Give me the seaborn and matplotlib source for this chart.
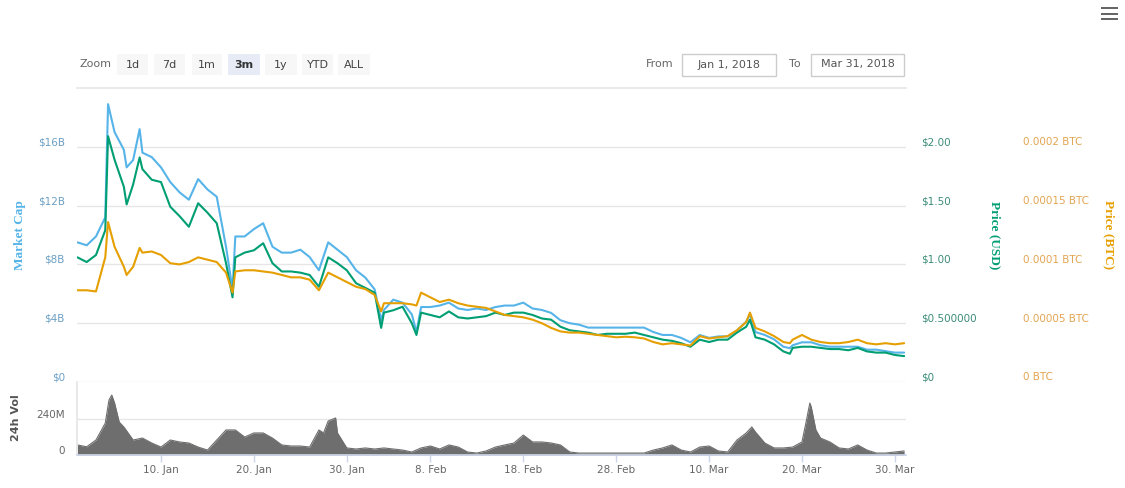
import matplotlib.pyplot as plt
import matplotlib.transforms as mtransforms
from matplotlib.patches import Rectangle
import seaborn as sns
import pandas as pd

W, H = 1125, 488
start = pd.Timestamp("2018-01-01")

# day offsets from Jan 1 for the three price series
day = [0, 1, 2, 3, 3.3, 4, 5, 5.3, 6, 6.7, 7, 8, 9, 10, 11, 12, 13, 14, 15, 16, 16.7,
       17, 18, 19, 20, 21, 22, 23, 24, 25, 26, 27, 28, 29, 30, 31, 32, 32.7, 33, 34,
       35, 36, 36.5, 37, 38, 39, 40, 41, 42, 43, 44, 45, 46, 47, 48, 49, 50, 51, 52,
       53, 54, 55, 56, 57, 58, 59, 60, 61, 62, 63, 64, 65, 66, 67, 68, 69, 70, 71, 72,
       72.4, 73, 74, 75, 76, 76.7, 77, 78, 79, 80, 81, 82, 83, 84, 85, 86, 87, 88, 89]
market_cap_b = [9.5, 9.3, 9.9, 11.2, 18.9, 17.0, 15.8, 14.6, 15.1, 17.2, 15.6, 15.3, 14.6,
                13.6, 12.9, 12.4, 13.8, 13.1, 12.6, 9.2, 6.3,
                9.9, 9.9, 10.4, 10.8, 9.2, 8.8, 8.8, 9.0, 8.5, 7.6, 9.5, 9.0, 8.5, 7.6,
                7.1, 6.3, 4.2, 4.9, 5.6,
                5.4, 4.6, 3.4, 5.1, 5.1, 5.2, 5.4, 5.0, 4.9, 5.0, 4.9, 5.1, 5.2, 5.2, 5.4,
                5.0, 4.9, 4.7, 4.2,
                4.0, 3.9, 3.7, 3.7, 3.7, 3.7, 3.7, 3.7, 3.7, 3.4, 3.2, 3.2, 3.0, 2.7, 3.2,
                3.0, 3.1, 3.1, 3.5, 4.1,
                4.6, 3.4, 3.2, 2.9, 2.4, 2.3, 2.5, 2.7, 2.7, 2.5, 2.4, 2.4, 2.4, 2.4, 2.2,
                2.2, 2.1, 2.0, 2.0]
price_usd = [1.06, 1.02, 1.08, 1.29, 2.09, 1.89, 1.66, 1.51, 1.68, 1.91, 1.81, 1.72, 1.70,
             1.49, 1.41, 1.32, 1.52, 1.44, 1.35, 1.01, 0.72,
             1.06, 1.10, 1.12, 1.18, 1.01, 0.94, 0.94, 0.93, 0.91, 0.81, 1.06, 1.01, 0.95,
             0.84, 0.80, 0.76, 0.46, 0.59, 0.61,
             0.64, 0.50, 0.40, 0.59, 0.57, 0.55, 0.60, 0.55, 0.54, 0.55, 0.56, 0.59, 0.57,
             0.59, 0.59, 0.57, 0.54, 0.53, 0.47,
             0.44, 0.43, 0.42, 0.40, 0.41, 0.41, 0.41, 0.42, 0.40, 0.38, 0.36, 0.35, 0.33,
             0.30, 0.36, 0.34, 0.36, 0.36, 0.42, 0.47,
             0.53, 0.38, 0.36, 0.32, 0.26, 0.24, 0.29, 0.30, 0.30, 0.29, 0.28, 0.28, 0.27,
             0.29, 0.26, 0.25, 0.25, 0.23, 0.22]
# price in units of 0.00001 BTC
price_btc_1e5 = [7.8, 7.8, 7.7, 10.6, 13.6, 11.5, 9.8, 9.1, 9.8, 11.4, 11.0, 11.1, 10.8,
                 10.1, 10.0, 10.2, 10.6, 10.4, 10.2, 9.3, 7.6,
                 9.4, 9.5, 9.5, 9.4, 9.3, 9.1, 8.9, 8.9, 8.7, 7.8, 9.3, 8.9, 8.5, 8.1,
                 7.9, 7.4, 6.0, 6.7, 6.7,
                 6.7, 6.6, 6.5, 7.6, 7.2, 6.8, 7.0, 6.7, 6.5, 6.4, 6.3, 6.0, 5.7, 5.6, 5.5,
                 5.3, 5.0, 4.6, 4.3,
                 4.2, 4.2, 4.1, 4.0, 3.9, 3.8, 3.85, 3.8, 3.7, 3.4, 3.2, 3.3, 3.2, 3.1, 3.9,
                 3.7, 3.8, 3.9, 4.4, 5.1,
                 5.9, 4.6, 4.3, 3.9, 3.4, 3.3, 3.6, 4.0, 3.6, 3.4, 3.3, 3.3, 3.4, 3.6, 3.3,
                 3.2, 3.3, 3.2, 3.3]

vol_day = [0, 1, 2, 3, 3.4, 3.7, 4, 4.5, 5, 6, 7, 8, 9, 10, 11, 12, 13, 14, 15, 16, 17,
           18, 19, 20, 21, 22, 23, 24, 25, 26, 26.5, 27, 27.8, 28, 29, 30, 31, 32, 33,
           34, 35, 36, 37, 38, 39, 40, 41, 42, 43, 44, 45, 46, 47, 48, 49, 50, 51, 52,
           53, 54, 55, 56, 57, 58, 59, 60, 61, 62, 63, 64, 65, 66, 67, 68, 69, 70, 71,
           72, 72.6, 73, 74, 75, 76, 77, 78, 78.4, 78.85, 79, 79.5, 80, 81, 82, 83, 84,
           85, 86, 87, 88, 89]
volume_m = [67, 55, 100, 213, 367, 400, 347, 220, 187, 100, 113, 80, 53, 100, 87, 80, 53,
            33, 100, 167, 167,
            120, 147, 147, 113, 67, 60, 60, 53, 167, 147, 227, 247, 147, 47, 40, 47, 40, 47,
            40, 33, 20, 47, 60, 40, 67, 53, 20, 13, 27, 53, 67, 80, 133, 87, 87, 80, 67,
            20, 13, 13, 13, 13, 13, 13, 13, 13, 33, 47, 67, 33, 20, 53, 60, 27, 20, 100,
            147, 187, 153, 80, 47, 47, 53, 87, 207, 347, 320, 167, 113, 87, 47, 40, 67,
            33, 13, 13, 20, 27]

mc_ticks = [0, 4, 8, 12, 16]
mc_labels = ["$0", "$4B", "$8B", "$12B", "$16B"]
usd_ticks = [0, 0.5, 1.0, 1.5, 2.0]
usd_labels = ["$0", "$0.500000", "$1.00", "$1.50", "$2.00"]
btc_ticks = [0, 5, 10, 15, 20]
btc_labels = ["0 BTC", "0.00005 BTC", "0.0001 BTC", "0.00015 BTC", "0.0002 BTC"]
date_ticks = pd.to_datetime(["2018-01-10", "2018-01-20", "2018-01-30", "2018-02-08",
                             "2018-02-18", "2018-02-28", "2018-03-10", "2018-03-20",
                             "2018-03-30"])
zoom_buttons = ["1d", "7d", "1m", "3m", "1y", "YTD", "ALL"]

BLUE, GREEN, ORANGE, GRAY = "#56b4e9", "#009e73", "#e69f00", "#6e6e6e"

sns.set_theme(style="white")
plt.rcParams["font.family"] = ["DejaVu Sans"]

df = pd.DataFrame({"date": start + pd.to_timedelta(day, unit="D"),
                   "mc": market_cap_b, "usd": price_usd, "btc": price_btc_1e5})
vdf = pd.DataFrame({"date": start + pd.to_timedelta(vol_day, unit="D"), "vol": volume_m})

fig = plt.figure(figsize=(W / 100, H / 100), dpi=100)
x0, x1 = 77.4, 906
ax = fig.add_axes([x0 / W, 1 - 382 / H, (x1 - x0) / W, 294 / H])
axv = fig.add_axes([x0 / W, 1 - 455 / H, (x1 - x0) / W, 73 / H], sharex=ax)
ax2 = ax.twinx()
ax3 = ax.twinx()

sns.lineplot(data=df, x="date", y="mc", ax=ax, color=BLUE, lw=1.5)
sns.lineplot(data=df, x="date", y="usd", ax=ax2, color=GREEN, lw=1.5)
sns.lineplot(data=df, x="date", y="btc", ax=ax3, color=ORANGE, lw=1.5)
axv.fill_between(vdf["date"], vdf["vol"], color=GRAY, lw=0)
sns.lineplot(data=vdf, x="date", y="vol", ax=axv, color=GRAY, lw=0.8)

ax.set_xlim(start, start + pd.Timedelta(days=89.2))
ax.set_ylim(0, 20)
ax2.set_ylim(0, 2.5)
ax3.set_ylim(0, 25)
axv.set_ylim(0, 487)

up = mtransforms.ScaledTranslation(0, 0.055, fig.dpi_scale_trans)

ax.set_yticks(mc_ticks, mc_labels)
ax2.set_yticks(usd_ticks, usd_labels)
ax3.set_yticks(btc_ticks, btc_labels)
axv.set_yticks([0, 240], ["0", "240M"])
ax.tick_params(axis="y", length=0, pad=9, labelsize=7.5, labelcolor="#6b9fc4")
ax2.tick_params(axis="y", length=0, pad=11, labelsize=7.5, labelcolor="#3b8c78")
ax3.tick_params(axis="y", length=0, pad=84, labelsize=7.5, labelcolor="#e3a552")
axv.tick_params(axis="y", length=0, pad=9, labelsize=7.5, labelcolor="#666666")
for a in (ax2, ax3):
    for lbl in a.get_yticklabels():
        lbl.set_horizontalalignment("left")
for a in (ax, ax2, ax3, axv):
    for lbl in a.get_yticklabels():
        lbl.set_transform(lbl.get_transform() + up)
    a.set_xlabel("")
    a.set_ylabel("")

ax.grid(axis="y", color="#e6e6e6", lw=1)
ax.grid(axis="x", visible=False)
ax.tick_params(axis="x", bottom=False, labelbottom=False)
for a in (ax, ax2, ax3):
    for s in ("left", "right", "bottom"):
        a.spines[s].set_visible(False)
ax.spines["top"].set_color("#e6e6e6")
ax2.spines["top"].set_visible(False)
ax3.spines["top"].set_visible(False)

axv.grid(axis="y", color="#e6e6e6", lw=1)
axv.spines["top"].set_visible(False)
axv.spines["right"].set_visible(False)
axv.spines["left"].set_color("#e6e6e6")
axv.spines["bottom"].set_color("#ccd6eb")
axv.set_xticks(date_ticks)
axv.set_xticklabels([f"{d.day}. {d:%b}" for d in date_ticks])
axv.tick_params(axis="x", bottom=True, length=5, width=1, color="#ccd6eb",
                pad=2, labelsize=7.5, labelcolor="#666666")


def fig_text(px, py, s, **kw):
    fig.text(px / W, 1 - py / H, s, ha=kw.pop("ha", "center"), va=kw.pop("va", "center"), **kw)


def fig_rect(px0, py0, px1, py1, **kw):
    fig.add_artist(Rectangle((px0 / W, 1 - py1 / H), (px1 - px0) / W, (py1 - py0) / H,
                             transform=fig.transFigure, **kw))


# axis titles
fig_text(20, 235, "Market Cap", rotation=90, color=BLUE, fontsize=9.5,
         fontweight="bold", family="Liberation Serif")
fig_text(995, 235, "Price (USD)", rotation=270, color=GREEN, fontsize=9.5,
         fontweight="bold", family="Liberation Serif")
fig_text(1109, 235, "Price (BTC)", rotation=270, color=ORANGE, fontsize=9.5,
         fontweight="bold", family="Liberation Serif")
fig_text(16, 418, "24h Vol", rotation=90, color="#555555", fontsize=8, fontweight="bold")

# range selector
fig_text(96, 64, "Zoom", color="#666666", fontsize=8)
btn_x = [(117, 148), (154, 185), (192, 222), (228, 260), (265, 297), (302, 333), (338, 370)]
for (bx0, bx1), name in zip(btn_x, zoom_buttons):
    sel = name == "3m"
    fig_rect(bx0, 54, bx1, 75, facecolor="#e6ebf5" if sel else "#f7f7f7", edgecolor="none")
    fig_text((bx0 + bx1) / 2, 64.5, name, color="#333333" if sel else "#444444",
             fontsize=8, fontweight="bold" if sel else "normal")
fig_text(660, 64, "From", color="#666666", fontsize=8)
fig_rect(682, 54, 776, 76, facecolor="white", edgecolor="#cccccc", lw=1)
fig_text(729, 64.5, "Jan 1, 2018", color="#555555", fontsize=8)
fig_text(795, 64, "To", color="#666666", fontsize=8)
fig_rect(811, 54, 904, 76, facecolor="white", edgecolor="#cccccc", lw=1)
fig_text(857.5, 64.5, "Mar 31, 2018", color="#555555", fontsize=8)

# menu icon
for yy in (7, 12.5, 18):
    fig_rect(1101, yy, 1118, yy + 2.2, facecolor="#666666", edgecolor="none")

fig.savefig("out.png", dpi=100)
